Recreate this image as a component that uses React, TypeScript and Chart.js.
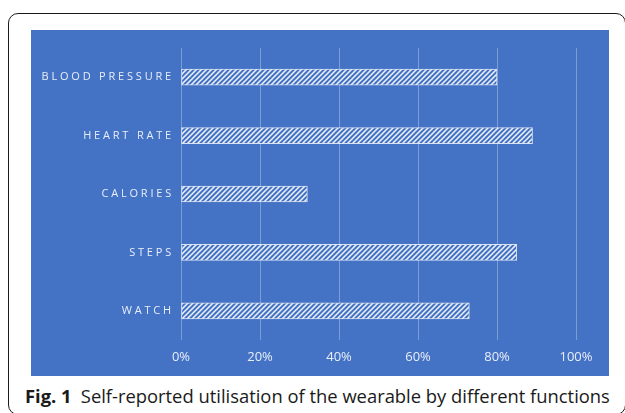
import React, { useEffect, useRef } from 'react';
import { Chart, registerables } from 'chart.js';

Chart.register(...registerables);

const categories = ['BLOOD PRESSURE', 'HEART RATE', 'CALORIES', 'STEPS', 'WATCH'];
const usage = [80, 89, 32, 85, 73];
const xTickValues = [0, 20, 40, 60, 80, 100];
const captionBold = 'Fig. 1';
const captionText = 'Self-reported utilisation of the wearable by different functions';

const BLUE = '#4472C4';
const LABEL = 'rgba(240,244,252,0.95)';

function makeHatch(ctx: CanvasRenderingContext2D) {
  const s = 5;
  const c = document.createElement('canvas');
  c.width = s;
  c.height = s;
  const g = c.getContext('2d')!;
  g.fillStyle = BLUE;
  g.fillRect(0, 0, s, s);
  g.strokeStyle = 'rgba(255,255,255,0.92)';
  g.lineWidth = 1.5;
  g.beginPath();
  g.moveTo(-1, 1); g.lineTo(1, -1);
  g.moveTo(0, s); g.lineTo(s, 0);
  g.moveTo(s - 1, s + 1); g.lineTo(s + 1, s - 1);
  g.stroke();
  return ctx.createPattern(c, 'repeat')!;
}

const spacedYLabels = {
  id: 'spacedYLabels',
  beforeDraw(chart: any) {
    const y = chart.scales.y;
    if (!y || y.__spaced) return;
    const orig = y.drawLabels;
    y.drawLabels = function (area: any) {
      const ctx = this.ctx;
      ctx.save();
      ctx.letterSpacing = '2.8px';
      orig.call(this, area);
      ctx.restore();
    };
    y.__spaced = true;
  },
};

export default function App() {
  const canvasRef = useRef<HTMLCanvasElement>(null);
  const capRef = useRef<HTMLDivElement>(null);

  useEffect(() => {
    const canvas = canvasRef.current!;
    const ctx = canvas.getContext('2d')!;
    const chart = new Chart(ctx, {
      type: 'bar',
      data: {
        labels: categories,
        datasets: [
          {
            data: usage,
            backgroundColor: makeHatch(ctx),
            borderColor: 'rgba(255,255,255,0.8)',
            borderWidth: 1,
            borderSkipped: false,
            barThickness: 16,
          },
        ],
      },
      options: {
        indexAxis: 'y',
        animation: false,
        responsive: false,
        maintainAspectRatio: false,
        layout: { padding: { top: 18, right: 33, left: 0, bottom: 0 } },
        plugins: { legend: { display: false }, tooltip: { enabled: false } },
        scales: {
          x: {
            min: 0,
            max: 100,
            afterBuildTicks: (s: any) => {
              s.ticks = xTickValues.map((v) => ({ value: v }));
            },
            ticks: {
              callback: (v: any) => v + '%',
              color: LABEL,
              font: { family: 'Open Sans', size: 13 },
              padding: 9,
              maxRotation: 0,
            },
            grid: { color: 'rgba(255,255,255,0.3)', drawTicks: false, lineWidth: 1 },
            border: { display: false },
            afterFit: (s: any) => {
              s.height = 36;
            },
          },
          y: {
            ticks: {
              color: LABEL,
              font: { family: 'Open Sans', size: 11 },
              padding: 7,
            },
            grid: { display: false, drawTicks: false },
            border: { display: false },
            afterFit: (s: any) => {
              s.width = 150;
            },
          },
        },
      },
      plugins: [spacedYLabels],
    } as any);

    const fit = () => {
      const el = capRef.current;
      if (!el) return;
      el.style.transform = 'none';
      const w = el.scrollWidth;
      if (w > 0) el.style.transform = `scaleX(${585 / w})`;
    };
    fit();
    (document as any).fonts?.ready?.then(fit);

    return () => chart.destroy();
  }, []);

  return (
    <div>
      <div
        style={{
          position: 'absolute',
          left: 8,
          top: 13,
          width: 618,
          height: 402,
          border: '1.5px solid #1a1a1a',
          borderRadius: 10,
          boxSizing: 'border-box',
        }}
      />
      <canvas
        ref={canvasRef}
        width={578}
        height={346}
        style={{ position: 'absolute', left: 31, top: 30, width: 578, height: 346, background: BLUE }}
      />
      <div
        ref={capRef}
        style={{
          position: 'absolute',
          left: 25,
          top: 387,
          whiteSpace: 'nowrap',
          fontFamily: '"Open Sans", sans-serif',
          fontSize: 18,
          lineHeight: '18px',
          color: '#1a1a1a',
          transformOrigin: 'left top',
        }}
      >
        <span style={{ fontWeight: 700 }}>{captionBold}</span>
        <span style={{ marginLeft: 9 }}>{captionText}</span>
      </div>
    </div>
  );
}
